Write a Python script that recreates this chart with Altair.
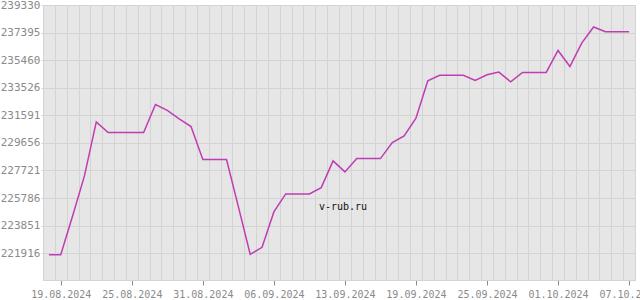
import json
import altair as alt
import pandas as pd

dates = [
    "18.08.2024", "19.08.2024", "20.08.2024", "21.08.2024", "22.08.2024", "23.08.2024",
    "24.08.2024", "25.08.2024", "26.08.2024", "27.08.2024", "28.08.2024", "29.08.2024",
    "30.08.2024", "31.08.2024", "01.09.2024", "02.09.2024", "03.09.2024", "04.09.2024",
    "05.09.2024", "06.09.2024", "07.09.2024", "09.09.2024", "10.09.2024", "11.09.2024",
    "12.09.2024", "13.09.2024", "14.09.2024", "15.09.2024", "16.09.2024", "17.09.2024",
    "18.09.2024", "19.09.2024", "20.09.2024", "21.09.2024", "22.09.2024", "23.09.2024",
    "24.09.2024", "25.09.2024", "26.09.2024", "27.09.2024", "28.09.2024", "29.09.2024",
    "30.09.2024", "01.10.2024", "02.10.2024", "03.10.2024", "04.10.2024", "05.10.2024",
    "06.10.2024", "07.10.2024",
]

values = [
    221815, 221815, 224533, 227342, 231134, 230383, 230383, 230383, 230383, 232349,
    231942, 231345, 230804, 228486, 228486, 228486, 225186, 221843, 222334, 224814,
    226078, 226078, 226078, 226520, 228395, 227623, 228557, 228557, 228557, 229680,
    230151, 231394, 234014, 234400, 234400, 234400, 234035, 234435, 234625, 233943,
    234597, 234597, 234597, 236142, 235018, 236661, 237785, 237455, 237455, 237455,
]

y_ticks = [221916, 223851, 225786, 227721, 229656, 231591, 233526, 235460, 237395, 239330]
x_tick_idx = [1, 7, 13, 19, 25, 31, 37, 43, 49]
watermark_text = ["v-rub.ru"]

df = pd.DataFrame({"i": list(range(len(values))), "date": dates, "value": values})
wm = pd.DataFrame({"t": watermark_text})

n = len(values)
grid_vals = [k - 0.5 for k in range(n + 1)]
x_scale = alt.Scale(domain=[-0.5, n - 0.5], nice=False, zero=False)
y_scale = alt.Scale(domain=[220040, 239330], nice=False, zero=False)

label_expr = json.dumps(dates) + "[datum.value]"

grid_color = "#d3d3d3"
label_color = "#8a8a8a"
mono = "DejaVu Sans Mono"

y_axis = alt.Axis(
    values=y_ticks, format="d", title=None, grid=True, gridColor=grid_color, gridWidth=1,
    labelFont=mono, labelFontSize=11, labelColor=label_color, labelPadding=1,
    tickSize=2, tickColor=grid_color, domainColor=grid_color,
)

grid_layer = alt.Chart(df).mark_line(opacity=0).encode(
    x=alt.X("i:Q", scale=x_scale, axis=alt.Axis(
        orient="top", values=grid_vals, grid=True, gridColor=grid_color, gridWidth=1,
        labels=False, ticks=False, domain=False, title=None)),
    y=alt.Y("value:Q", scale=y_scale, axis=y_axis),
)

line_layer = alt.Chart(df).mark_line(color="#c03cb4", strokeWidth=1.5).encode(
    x=alt.X("i:Q", scale=x_scale, axis=alt.Axis(
        orient="bottom", values=x_tick_idx, labelExpr=label_expr, grid=False,
        labelFont=mono, labelFontSize=10, labelColor=label_color, labelPadding=4,
        tickSize=5, tickColor=label_color, domainColor=grid_color, title=None,
        labelOverlap=False, labelFlush=False)),
    y=alt.Y("value:Q", scale=y_scale, axis=y_axis),
)

watermark = alt.Chart(wm).mark_text(
    font=mono, fontSize=10, color="#111111", align="center", baseline="middle"
).encode(text="t:N", x=alt.value(300), y=alt.value(202))

chart = alt.layer(grid_layer, line_layer, watermark).resolve_axis(x="independent").properties(
    width=592, height=275,
    autosize=alt.AutoSizeParams(type="none"),
    padding={"left": 43, "top": 5, "right": 5, "bottom": 20},
    background="white",
).configure_view(fill="#e6e6e6", stroke=grid_color)

chart.save("out.html", embed_options={"renderer": "svg", "actions": False})
